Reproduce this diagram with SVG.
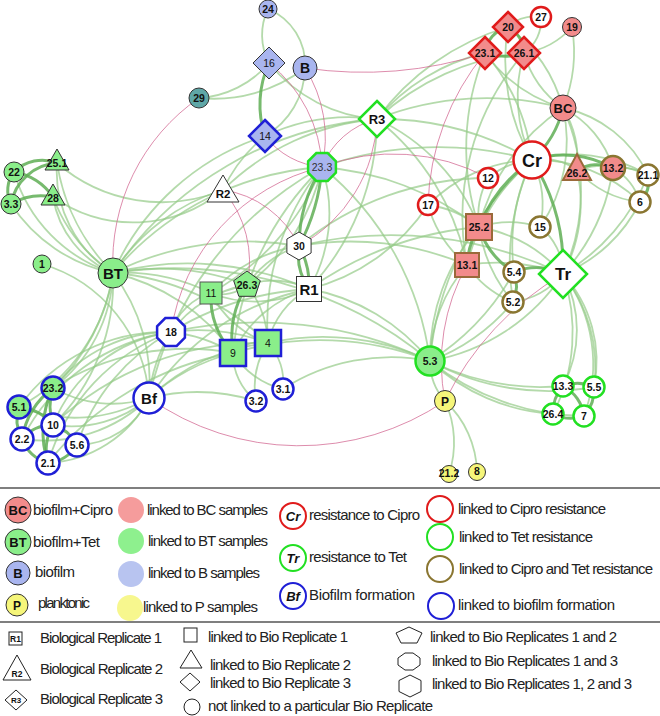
<svg xmlns="http://www.w3.org/2000/svg" width="660" height="716" viewBox="0 0 660 716">
<style>
.e{fill:none;stroke:#94cb88;stroke-width:1.8;stroke-opacity:.7}
.t{fill:none;stroke:#5fae55;stroke-width:3;stroke-opacity:.85}
.p{fill:none;stroke:#cf5f8c;stroke-width:.9;stroke-opacity:.8}
text{font-family:"Liberation Sans",Arial,sans-serif;fill:#111}
.l{font-weight:bold;font-size:10.5px;text-anchor:middle}
.n{font-size:10.5px;text-anchor:middle}
.big{font-weight:bold;text-anchor:middle}
.lg{font-size:15px;fill:#222}
.fr{fill:#f28b8b}.fg{fill:#8aee8a}.fb{fill:#a9b5ef}.fy{fill:#f6f67a}.fw{fill:#fff}.ft{fill:#5fa7a7}
.sk{stroke:#333;stroke-width:1}.sr{stroke:#e01b1b;stroke-width:2.5}.sg{stroke:#22e022;stroke-width:2.5}
.so{stroke:#8a7631;stroke-width:2.5}.sb{stroke:#1f1fd6;stroke-width:2.5}.sw{stroke:#9a6a3a;stroke-width:2}
.sx{stroke:#555;stroke-width:1}
</style>
<g id="connectors">
<path class="e" d="M57 163 A120 120 0 0 0 113 273"/>
<path class="e" d="M57 163 A200 200 0 0 0 113 273"/>
<path class="e" d="M53 197 A100 100 0 0 0 113 273"/>
<path class="e" d="M53 197 A160 160 0 0 0 113 273"/>
<path class="e" d="M14 172 A150 150 0 0 0 113 273"/>
<path class="e" d="M11 204 A160 160 0 0 0 113 273"/>
<path class="e" d="M57 163 A160 160 0 0 0 223 190"/>
<path class="e" d="M53 197 A140 140 0 0 0 223 190"/>
<path class="e" d="M199 98 A150 150 0 0 0 305 68"/>
<path class="e" d="M199 98 A100 100 0 0 0 269 63"/>
<path class="e" d="M268 9 A60 60 0 0 0 269 63"/>
<path class="e" d="M268 9 A60 60 0 0 1 305 68"/>
<path class="e" d="M305 68 A80 80 0 0 1 265 136"/>
<path class="e" d="M269 63 A150 150 0 0 0 377 119"/>
<path class="e" d="M265 136 A200 200 0 0 1 377 119"/>
<path class="e" d="M223 190 A150 150 0 0 1 265 136"/>
<path class="e" d="M223 190 A250 250 0 0 1 377 119"/>
<path class="e" d="M113 273 A200 200 0 0 1 223 190"/>
<path class="e" d="M322 167 A150 150 0 0 1 309 289"/>
<path class="e" d="M322 167 A200 200 0 0 1 247 285"/>
<path class="e" d="M322 167 A250 250 0 0 1 211 293"/>
<path class="e" d="M322 167 A300 300 0 0 0 233 353"/>
<path class="e" d="M322 167 A250 250 0 0 0 268 343"/>
<path class="e" d="M247 285 A40 40 0 0 1 211 293"/>
<path class="e" d="M247 285 A100 100 0 0 1 268 343"/>
<path class="e" d="M211 293 A100 100 0 0 0 268 343"/>
<path class="e" d="M233 353 A40 40 0 0 1 268 343"/>
<path class="e" d="M268 343 A60 60 0 0 1 283 389"/>
<path class="e" d="M268 343 A80 80 0 0 0 256 401"/>
<path class="e" d="M233 353 A60 60 0 0 0 256 401"/>
<path class="e" d="M233 353 A80 80 0 0 0 283 389"/>
<path class="e" d="M309 289 A80 80 0 0 0 268 343"/>
<path class="e" d="M309 289 A120 120 0 0 0 233 353"/>
<path class="e" d="M309 289 A80 80 0 0 0 247 285"/>
<path class="e" d="M309 289 A120 120 0 0 1 211 293"/>
<path class="e" d="M299 246 A100 100 0 0 0 247 285"/>
<path class="e" d="M299 246 A150 150 0 0 0 211 293"/>
<path class="e" d="M171 332 A150 150 0 0 1 233 353"/>
<path class="e" d="M171 332 A200 200 0 0 1 268 343"/>
<path class="e" d="M171 332 A300 300 0 0 1 309 289"/>
<path class="e" d="M171 332 A60 60 0 0 1 211 293"/>
<path class="e" d="M171 332 A120 120 0 0 1 247 285"/>
<path class="e" d="M113 273 A200 200 0 0 1 211 293"/>
<path class="e" d="M113 273 A250 250 0 0 1 247 285"/>
<path class="e" d="M113 273 A300 300 0 0 1 309 289"/>
<path class="e" d="M113 273 A300 300 0 0 1 299 246"/>
<path class="e" d="M113 273 A300 300 0 0 1 322 167"/>
<path class="e" d="M113 273 A350 350 0 0 1 377 119"/>
<path class="e" d="M113 273 A200 200 0 0 1 233 353"/>
<path class="e" d="M113 273 A250 250 0 0 1 268 343"/>
<path class="e" d="M113 273 A400 400 0 0 1 430 361"/>
<path class="e" d="M113 273 A250 250 0 0 1 265 136"/>
<path class="e" d="M113 273 A150 150 0 0 1 53 388"/>
<path class="e" d="M113 273 A200 200 0 0 1 53 388"/>
<path class="e" d="M113 273 A180 180 0 0 1 19 407"/>
<path class="e" d="M113 273 A200 200 0 0 1 53 425"/>
<path class="e" d="M113 273 A180 180 0 0 1 149 398"/>
<path class="e" d="M42 264 A150 150 0 0 1 149 398"/>
<path class="e" d="M149 398 A120 120 0 0 1 53 388"/>
<path class="e" d="M149 398 A150 150 0 0 1 19 407"/>
<path class="e" d="M149 398 A120 120 0 0 1 53 425"/>
<path class="e" d="M149 398 A150 150 0 0 1 22 439"/>
<path class="e" d="M149 398 A80 80 0 0 1 77 445"/>
<path class="e" d="M149 398 A120 120 0 0 1 48 463"/>
<path class="e" d="M149 398 A150 150 0 0 1 171 332"/>
<path class="e" d="M149 398 A200 200 0 0 1 233 353"/>
<path class="e" d="M149 398 A200 200 0 0 1 268 343"/>
<path class="e" d="M149 398 A200 200 0 0 1 256 401"/>
<path class="e" d="M149 398 A250 250 0 0 1 309 289"/>
<path class="e" d="M149 398 A350 350 0 0 1 322 167"/>
<path class="e" d="M171 332 A150 150 0 0 0 53 388"/>
<path class="e" d="M171 332 A180 180 0 0 0 19 407"/>
<path class="e" d="M171 332 A150 150 0 0 0 53 425"/>
<path class="e" d="M171 332 A200 200 0 0 0 22 439"/>
<path class="e" d="M171 332 A200 200 0 0 0 48 463"/>
<path class="e" d="M171 332 A200 200 0 0 0 77 445"/>
<path class="e" d="M233 353 A250 250 0 0 0 53 388"/>
<path class="e" d="M268 343 A300 300 0 0 0 53 425"/>
<path class="e" d="M233 353 A300 300 0 0 0 48 463"/>
<path class="e" d="M171 332 A400 400 0 0 1 430 361"/>
<path class="e" d="M563 108 A150 150 0 0 0 572 27"/>
<path class="e" d="M563 108 A100 100 0 0 1 524 53"/>
<path class="e" d="M563 108 A150 150 0 0 1 485 53"/>
<path class="e" d="M563 108 A150 150 0 0 0 508 27"/>
<path class="e" d="M563 108 A100 100 0 0 1 613 168"/>
<path class="e" d="M563 108 A120 120 0 0 1 648 175"/>
<path class="e" d="M563 108 A100 100 0 0 1 577 170"/>
<path class="e" d="M563 108 A200 200 0 0 1 563 274"/>
<path class="e" d="M563 108 A200 200 0 0 0 479 227"/>
<path class="e" d="M563 108 A150 150 0 0 1 540 227"/>
<path class="e" d="M508 27 A40 40 0 0 1 541 17"/>
<path class="e" d="M524 53 A40 40 0 0 0 541 17"/>
<path class="e" d="M524 53 A80 80 0 0 0 572 27"/>
<path class="e" d="M532 160 A200 200 0 0 1 508 27"/>
<path class="e" d="M532 160 A200 200 0 0 0 485 53"/>
<path class="e" d="M532 160 A150 150 0 0 1 524 53"/>
<path class="e" d="M532 160 A80 80 0 0 0 488 178"/>
<path class="e" d="M532 160 A200 200 0 0 0 467 265"/>
<path class="e" d="M532 160 A100 100 0 0 1 540 227"/>
<path class="e" d="M532 160 A60 60 0 0 1 577 170"/>
<path class="e" d="M532 160 A150 150 0 0 1 648 175"/>
<path class="e" d="M532 160 A150 150 0 0 1 640 202"/>
<path class="e" d="M532 160 A200 200 0 0 0 514 272"/>
<path class="e" d="M532 160 A250 250 0 0 0 513 302"/>
<path class="e" d="M532 160 A300 300 0 0 0 430 361"/>
<path class="e" d="M532 160 A300 300 0 0 0 377 119"/>
<path class="e" d="M532 160 A150 150 0 0 0 428 205"/>
<path class="e" d="M613 168 A60 60 0 0 1 648 175"/>
<path class="e" d="M613 168 A60 60 0 0 1 640 202"/>
<path class="e" d="M577 170 A100 100 0 0 1 648 175"/>
<path class="e" d="M577 170 A100 100 0 0 0 640 202"/>
<path class="e" d="M563 274 A200 200 0 0 0 613 168"/>
<path class="e" d="M563 274 A200 200 0 0 0 648 175"/>
<path class="e" d="M563 274 A150 150 0 0 0 640 202"/>
<path class="e" d="M563 274 A150 150 0 0 0 577 170"/>
<path class="e" d="M563 274 A150 150 0 0 0 479 227"/>
<path class="e" d="M563 274 A200 200 0 0 0 467 265"/>
<path class="e" d="M563 274 A80 80 0 0 1 513 302"/>
<path class="e" d="M563 274 A60 60 0 0 0 540 227"/>
<path class="e" d="M563 274 A120 120 0 0 1 563 386"/>
<path class="e" d="M563 274 A150 150 0 0 1 594 387"/>
<path class="e" d="M563 274 A150 150 0 0 1 584 416"/>
<path class="e" d="M563 274 A180 180 0 0 1 553 414"/>
<path class="e" d="M563 274 A130 130 0 0 1 594 387"/>
<path class="e" d="M430 361 A250 250 0 0 0 563 386"/>
<path class="e" d="M430 361 A200 200 0 0 0 553 414"/>
<path class="e" d="M430 361 A250 250 0 0 0 584 416"/>
<path class="e" d="M430 361 A250 250 0 0 0 594 387"/>
<path class="e" d="M430 361 A200 200 0 0 0 563 274"/>
<path class="e" d="M430 361 A200 200 0 0 0 513 302"/>
<path class="e" d="M430 361 A200 200 0 0 1 479 227"/>
<path class="e" d="M430 361 A150 150 0 0 1 467 265"/>
<path class="e" d="M430 361 A250 250 0 0 0 514 272"/>
<path class="e" d="M430 361 A250 250 0 0 0 268 343"/>
<path class="e" d="M430 361 A300 300 0 0 0 233 353"/>
<path class="e" d="M430 361 A200 200 0 0 0 283 389"/>
<path class="e" d="M430 361 A200 200 0 0 0 309 289"/>
<path class="e" d="M430 361 A300 300 0 0 0 322 167"/>
<path class="e" d="M445 401 A60 60 0 0 1 430 361"/>
<path class="e" d="M445 401 A100 100 0 0 1 449 474"/>
<path class="e" d="M445 401 A100 100 0 0 1 477 472"/>
<path class="e" d="M479 227 A100 100 0 0 1 540 227"/>
<path class="e" d="M467 265 A100 100 0 0 0 513 302"/>
<path class="e" d="M428 205 A100 100 0 0 1 479 227"/>
<path class="e" d="M488 178 A80 80 0 0 0 479 227"/>
<path class="e" d="M428 205 A120 120 0 0 0 467 265"/>
<path class="e" d="M479 227 A150 150 0 0 0 513 302"/>
<path class="e" d="M377 119 A200 200 0 0 1 485 53"/>
<path class="e" d="M377 119 A250 250 0 0 1 508 27"/>
<path class="e" d="M377 119 A250 250 0 0 1 524 53"/>
<path class="e" d="M377 119 A250 250 0 0 1 309 289"/>
<path class="e" d="M377 119 A200 200 0 0 1 479 227"/>
<path class="e" d="M377 119 A250 250 0 0 1 467 265"/>
<path class="e" d="M377 119 A300 300 0 0 1 563 108"/>
<path class="e" d="M485 53 A250 250 0 0 0 479 227"/>
<path class="e" d="M524 53 A250 250 0 0 0 467 265"/>
<path class="e" d="M428 205 A200 200 0 0 1 309 289"/>
<path class="e" d="M488 178 A300 300 0 0 0 299 246"/>
<path class="e" d="M322 167 A300 300 0 0 1 479 227"/>
<path class="e" d="M322 167 A350 350 0 0 1 532 160"/>
<path class="e" d="M299 246 A300 300 0 0 1 467 265"/>
<path class="e" d="M309 289 A350 350 0 0 1 479 227"/>
<path class="e" d="M299 246 A400 400 0 0 1 563 274"/>
<path class="t" d="M14 172 A40 40 0 0 1 57 163"/>
<path class="t" d="M14 172 A60 60 0 0 1 53 197"/>
<path class="t" d="M11 204 A50 50 0 0 1 57 163"/>
<path class="t" d="M11 204 A60 60 0 0 1 53 197"/>
<path class="t" d="M14 172 A30 30 0 0 0 11 204"/>
<path class="t" d="M269 63 A100 100 0 0 0 265 136"/>
<path class="t" d="M322 167 A150 150 0 0 0 299 246"/>
<path class="t" d="M322 167 A200 200 0 0 1 299 246"/>
<path class="t" d="M299 246 A60 60 0 0 0 309 289"/>
<path class="t" d="M299 246 A80 80 0 0 1 309 289"/>
<path class="t" d="M247 285 A100 100 0 0 0 233 353"/>
<path class="t" d="M211 293 A80 80 0 0 0 233 353"/>
<path class="t" d="M53 388 A60 60 0 0 0 53 425"/>
<path class="t" d="M53 388 A100 100 0 0 0 48 463"/>
<path class="t" d="M53 388 A80 80 0 0 0 22 439"/>
<path class="t" d="M19 407 A40 40 0 0 0 22 439"/>
<path class="t" d="M19 407 A50 50 0 0 1 53 425"/>
<path class="t" d="M53 425 A50 50 0 0 0 48 463"/>
<path class="t" d="M53 425 A40 40 0 0 1 77 445"/>
<path class="t" d="M22 439 A40 40 0 0 0 48 463"/>
<path class="t" d="M77 445 A40 40 0 0 1 48 463"/>
<path class="t" d="M22 439 A40 40 0 0 1 53 425"/>
<path class="t" d="M532 160 A100 100 0 0 0 563 108"/>
<path class="t" d="M508 27 A30 30 0 0 0 485 53"/>
<path class="t" d="M508 27 A30 30 0 0 1 524 53"/>
<path class="t" d="M485 53 A60 60 0 0 0 524 53"/>
<path class="t" d="M532 160 A150 150 0 0 0 479 227"/>
<path class="t" d="M532 160 A100 100 0 0 1 613 168"/>
<path class="t" d="M577 170 A40 40 0 0 1 613 168"/>
<path class="t" d="M648 175 A30 30 0 0 1 640 202"/>
<path class="t" d="M532 160 A200 200 0 0 1 563 274"/>
<path class="t" d="M563 274 A60 60 0 0 0 514 272"/>
<path class="t" d="M563 386 A40 40 0 0 1 594 387"/>
<path class="t" d="M563 386 A40 40 0 0 0 553 414"/>
<path class="t" d="M563 386 A40 40 0 0 1 584 416"/>
<path class="t" d="M594 387 A40 40 0 0 1 584 416"/>
<path class="t" d="M553 414 A40 40 0 0 0 584 416"/>
<path class="t" d="M479 227 A80 80 0 0 0 467 265"/>
<path class="t" d="M479 227 A80 80 0 0 0 514 272"/>
<path class="t" d="M514 272 A40 40 0 0 1 513 302"/>
<path class="p" d="M199 98 A200 200 0 0 0 113 273"/>
<path class="p" d="M265 136 A80 80 0 0 0 322 167"/>
<path class="p" d="M269 63 A140 140 0 0 1 322 167"/>
<path class="p" d="M305 68 A130 130 0 0 1 322 167"/>
<path class="p" d="M377 119 A80 80 0 0 0 322 167"/>
<path class="p" d="M377 119 A150 150 0 0 1 299 246"/>
<path class="p" d="M223 190 A100 100 0 0 1 299 246"/>
<path class="p" d="M322 167 A200 200 0 0 0 171 332"/>
<path class="p" d="M305 68 A400 400 0 0 0 485 53"/>
<path class="p" d="M322 167 A200 200 0 0 1 488 178"/>
<path class="p" d="M223 190 A110 110 0 0 1 247 285"/>
<path class="p" d="M149 398 A260 260 0 0 0 445 401"/>
<path class="p" d="M467 265 A200 200 0 0 0 445 401"/>
<path class="p" d="M563 274 A300 300 0 0 0 445 401"/>
<path class="p" d="M485 53 A250 250 0 0 0 428 205"/>
</g>
<g id="nodes">
<g id="n24" transform="translate(268,9)"><circle r="9" class="fb sk"/><text class="l" y="3.5" font-size="9.5">24</text></g>
<g id="n16" transform="translate(269,63)"><polygon points="0,-16 16,0 0,16 -16,0" class="fb sk"/><text class="n" y="3.5">16</text></g>
<g id="nB" transform="translate(305,68)"><circle r="12" class="fb sk"/><text class="big" y="5" font-size="14">B</text></g>
<g id="n29" transform="translate(199,98)"><circle r="10" class="ft sk"/><text class="l" y="3.5">29</text></g>
<g id="n14" transform="translate(265,136)"><polygon points="0,-16 16,0 0,16 -16,0" class="fb sb"/><text class="n" y="3.5">14</text></g>
<g id="nR3" transform="translate(377,119)"><polygon points="0,-18 18,0 0,18 -18,0" class="fw sg"/><text class="big" y="4.5" font-size="13">R3</text></g>
<g id="n23_3" transform="translate(322,167)"><polygon points="13.9,5.7 5.7,13.9 -5.7,13.9 -13.9,5.7 -13.9,-5.7 -5.7,-13.9 5.7,-13.9 13.9,-5.7" class="fb sg" stroke-width="2"/><text class="n" y="3.5" style="fill:#333">23.3</text></g>
<g id="nR2" transform="translate(223,190)"><polygon points="0,-15 16,12 -16,12" class="fw sk"/><text class="big" y="8" font-size="11.5">R2</text></g>
<g id="n22" transform="translate(14,172)"><circle r="10" class="fg sk"/><text class="l" y="3.5">22</text></g>
<g id="n25_1" transform="translate(57,163)"><polygon points="0,-14 12,7 -12,7" class="fg sk"/><text class="l" y="4" font-size="9.5">25.1</text></g>
<g id="n3_3" transform="translate(11,204)"><circle r="10" class="fg sk"/><text class="l" y="3.5">3.3</text></g>
<g id="n28" transform="translate(53,197)"><polygon points="0,-13 12,8 -12,8" class="fg sk"/><text class="l" y="5">28</text></g>
<g id="n1" transform="translate(42,264)"><circle r="9" class="fg sk"/><text class="l" y="3.5" font-size="9.5">1</text></g>
<g id="nBT" transform="translate(113,273)"><circle r="15" class="fg sk"/><text class="big" y="5.5" font-size="15">BT</text></g>
<g id="n30" transform="translate(299,246)"><polygon points="0,-14 12.1,-7 12.1,7 0,14 -12.1,7 -12.1,-7" class="fw sk"/><text class="l" y="3.5">30</text></g>
<g id="nR1" transform="translate(309,289)"><rect x="-12.5" y="-12.5" width="25" height="25" class="fw sk"/><text class="big" y="5.5" font-size="15">R1</text></g>
<g id="n26_3" transform="translate(247,285)"><polygon points="0,-14 13.3,-4.3 8.2,11.3 -8.2,11.3 -13.3,-4.3" class="fg sk"/><text class="l" y="4" font-size="9.5">26.3</text></g>
<g id="n11" transform="translate(211,293)"><rect x="-11" y="-11" width="22" height="22" class="fg sx"/><text class="n" y="3.5">11</text></g>
<g id="n18" transform="translate(171,332)"><polygon points="13.9,5.7 5.7,13.9 -5.7,13.9 -13.9,5.7 -13.9,-5.7 -5.7,-13.9 5.7,-13.9 13.9,-5.7" class="fw sb"/><text class="l" y="3.5">18</text></g>
<g id="n9" transform="translate(233,353)"><rect x="-13" y="-13" width="26" height="26" class="fg sb"/><text class="n" y="3.5">9</text></g>
<g id="n4" transform="translate(268,343)"><rect x="-13" y="-13" width="26" height="26" class="fg sb"/><text class="n" y="3.5">4</text></g>
<g id="n3_1" transform="translate(283,389)"><circle r="10.5" class="fw sb"/><text class="l" y="3.5" font-size="9.5">3.1</text></g>
<g id="n3_2" transform="translate(256,401)"><circle r="10.5" class="fw sb"/><text class="l" y="3.5" font-size="9.5">3.2</text></g>
<g id="nBf" transform="translate(149,398)"><circle r="15.5" class="fw sb"/><text class="big" y="5.5" font-size="15">Bf</text></g>
<g id="n23_2" transform="translate(53,388)"><circle r="11.5" class="fg sb"/><text class="l" y="3.5">23.2</text></g>
<g id="n5_1" transform="translate(19,407)"><circle r="11.5" class="fg sb"/><text class="l" y="3.5">5.1</text></g>
<g id="n10" transform="translate(53,425)"><circle r="11.5" class="fw sb"/><text class="l" y="3.5">10</text></g>
<g id="n2_2" transform="translate(22,439)"><circle r="11.5" class="fw sb"/><text class="l" y="3.5">2.2</text></g>
<g id="n5_6" transform="translate(77,445)"><circle r="11.5" class="fw sb"/><text class="l" y="3.5">5.6</text></g>
<g id="n2_1" transform="translate(48,463)"><circle r="11.5" class="fw sb"/><text class="l" y="3.5">2.1</text></g>
<g id="n5_3" transform="translate(430,361)"><circle r="14.5" class="fg sg"/><text class="l" y="4" font-size="11">5.3</text></g>
<g id="nP" transform="translate(445,401)"><circle r="10.5" class="fy sk"/><text class="big" y="4.5" font-size="12">P</text></g>
<g id="n21_2" transform="translate(449,474)"><circle r="8.5" class="fy sk"/><text class="l" y="3" font-size="8">21.2</text></g>
<g id="n8" transform="translate(477,472)"><circle r="8.5" class="fy sk"/><text class="l" y="3" font-size="9">8</text></g>
<g id="n13_3" transform="translate(563,386)"><circle r="10.5" class="fw sg"/><text class="l" y="3.5" font-size="9.5">13.3</text></g>
<g id="n5_5" transform="translate(594,387)"><circle r="10.5" class="fw sg"/><text class="l" y="3.5" font-size="9.5">5.5</text></g>
<g id="n26_4" transform="translate(553,414)"><circle r="10.5" class="fw sg"/><text class="l" y="3.5" font-size="9.5">26.4</text></g>
<g id="n7" transform="translate(584,416)"><circle r="10.5" class="fw sg"/><text class="l" y="3.5" font-size="9.5">7</text></g>
<g id="nTr" transform="translate(563,274)"><polygon points="0,-24 24,0 0,24 -24,0" class="fw sg"/><text class="big" y="6" font-size="17">Tr</text></g>
<g id="n5_2" transform="translate(513,302)"><circle r="10.5" class="fw so"/><text class="l" y="3.5" font-size="9.5">5.2</text></g>
<g id="n5_4" transform="translate(514,272)"><circle r="10.5" class="fw so"/><text class="l" y="3.5" font-size="9.5">5.4</text></g>
<g id="n13_1" transform="translate(467,265)"><rect x="-12" y="-12" width="24" height="24" class="fr sw"/><text class="l" y="3.5">13.1</text></g>
<g id="n25_2" transform="translate(479,227)"><rect x="-13" y="-13" width="26" height="26" class="fr sw"/><text class="l" y="3.5">25.2</text></g>
<g id="n15" transform="translate(540,227)"><circle r="10.5" class="fw so"/><text class="l" y="3.5" font-size="9.5">15</text></g>
<g id="n12" transform="translate(488,178)"><circle r="10" class="fw sr"/><text class="l" y="3.5" font-size="9.5">12</text></g>
<g id="n17" transform="translate(428,205)"><circle r="10" class="fw sr"/><text class="l" y="3.5" font-size="9.5">17</text></g>
<g id="nCr" transform="translate(532,160)"><circle r="18.5" class="fw sr"/><text class="big" y="6.5" font-size="18">Cr</text></g>
<g id="n26_2" transform="translate(577,168)"><polygon points="0,-14 14,12 -14,12" class="fr sw"/><text class="l" y="9" font-size="9.5">26.2</text></g>
<g id="n13_2" transform="translate(613,168)"><circle r="12" class="fr so"/><text class="l" y="3.5">13.2</text></g>
<g id="n21_1" transform="translate(648,175)"><circle r="10.5" class="fw so"/><text class="l" y="3.5" font-size="9.5">21.1</text></g>
<g id="n6" transform="translate(640,202)"><circle r="10.5" class="fw so"/><text class="l" y="3.5" font-size="9.5">6</text></g>
<g id="nBC" transform="translate(563,108)"><circle r="13" class="fr sk"/><text class="big" y="5" font-size="13">BC</text></g>
<g id="n20" transform="translate(508,27)"><polygon points="0,-15 15,0 0,15 -15,0" class="fr sr"/><text class="l" y="3.5">20</text></g>
<g id="n27" transform="translate(541,17)"><circle r="10" class="fw sr"/><text class="l" y="3.5" font-size="9.5">27</text></g>
<g id="n19" transform="translate(572,27)"><circle r="9.5" class="fr sk"/><text class="l" y="3.5" font-size="9.5">19</text></g>
<g id="n23_1" transform="translate(485,53)"><polygon points="0,-16 16,0 0,16 -16,0" class="fr sr"/><text class="l" y="3.5">23.1</text></g>
<g id="n26_1" transform="translate(524,53)"><polygon points="0,-16 16,0 0,16 -16,0" class="fr sr"/><text class="l" y="3.5">26.1</text></g>
</g>
<g id="legend">
<line x1="0" y1="488" x2="660" y2="488" stroke="#555" stroke-width="1.5"/>
<line x1="0" y1="622" x2="660" y2="622" stroke="#555" stroke-width="1.5"/>
<circle cx="18" cy="510" r="13" class="fr sk"/><text class="big" x="18" y="515" font-size="13">BC</text>
<text class="lg" x="33" y="515" textLength="80">biofilm+Cipro</text>
<circle cx="18" cy="542" r="13" class="fg sk"/><text class="big" x="18" y="547" font-size="13">BT</text>
<text class="lg" x="33" y="547" textLength="67">biofilm+Tet</text>
<circle cx="18" cy="573" r="12" class="fb sk"/><text class="big" x="18" y="578" font-size="13">B</text>
<text class="lg" x="35" y="577" textLength="40">biofilm</text>
<circle cx="17" cy="605" r="11" class="fy sk"/><text class="big" x="17" y="609.5" font-size="12">P</text>
<text class="lg" x="38" y="608" textLength="52">planktonic</text>
<circle cx="131" cy="510" r="13" fill="#f59c9c"/>
<text class="lg" x="147" y="515" textLength="121">linked to BC samples</text>
<circle cx="131" cy="541" r="13" fill="#8ef08e"/>
<text class="lg" x="148" y="546" textLength="120">linked to BT samples</text>
<circle cx="131" cy="574" r="13" fill="#b8c4f0"/>
<text class="lg" x="148" y="578" textLength="112">linked to B samples</text>
<circle cx="130" cy="608" r="13" fill="#f7f78e"/>
<text class="lg" x="143" y="612" textLength="115">linked to P samples</text>
<circle cx="293" cy="516" r="13" class="fw" stroke="#e01b1b" stroke-width="2"/><text class="big" x="293" y="521" font-size="13" font-style="italic">Cr</text>
<text class="lg" x="309" y="520" textLength="111">resistance to Cipro</text>
<circle cx="293" cy="558" r="13" class="fw" stroke="#22e022" stroke-width="2"/><text class="big" x="293" y="563" font-size="13" font-style="italic">Tr</text>
<text class="lg" x="309" y="562" textLength="98">resistance to Tet</text>
<circle cx="293" cy="596" r="13" class="fw" stroke="#1f1fd6" stroke-width="2"/><text class="big" x="293" y="601" font-size="13" font-style="italic">Bf</text>
<text class="lg" x="309" y="600" textLength="106">Biofilm formation</text>
<circle cx="440" cy="509" r="13" fill="none" stroke="#e01b1b" stroke-width="2"/>
<text class="lg" x="458" y="514" textLength="148">linked to Cipro resistance</text>
<circle cx="440" cy="537" r="13" fill="none" stroke="#22e022" stroke-width="2"/>
<text class="lg" x="459" y="542" textLength="134">linked to Tet resistance</text>
<circle cx="440" cy="569" r="13" fill="none" stroke="#8a7631" stroke-width="2"/>
<text class="lg" x="459" y="574" textLength="194">linked to Cipro and Tet resistance</text>
<circle cx="441" cy="606" r="13" fill="none" stroke="#1f1fd6" stroke-width="2"/>
<text class="lg" x="458" y="610" textLength="157">linked to biofilm formation</text>
<rect x="9" y="632" width="13" height="13" fill="#fff" stroke="#222" stroke-width="1"/><text class="big" x="15.5" y="641.5" font-size="8.5">R1</text>
<text class="lg" x="40" y="643" textLength="122">Biological Replicate 1</text>
<polygon points="17,655 31,680 3,680" fill="#fff" stroke="#222" stroke-width="1"/><text class="big" x="17" y="677" font-size="8.5">R2</text>
<text class="lg" x="40" y="674" textLength="123">Biological Replicate 2</text>
<polygon points="16,690 27,700 16,710 5,700" fill="#fff" stroke="#222" stroke-width="1"/><text class="big" x="16" y="703" font-size="8">R3</text>
<text class="lg" x="40" y="704" textLength="123">Biological Replicate 3</text>
<rect x="184" y="628" width="13" height="14" fill="none" stroke="#222" stroke-width="1"/>
<text class="lg" x="208" y="642" textLength="140">linked to Bio Replicate 1</text>
<polygon points="191,650 202,668 180,668" fill="none" stroke="#222" stroke-width="1"/>
<text class="lg" x="210" y="670" textLength="141">linked to Bio Replicate 2</text>
<polygon points="190,673 200,682 190,691 180,682" fill="none" stroke="#222" stroke-width="1"/>
<text class="lg" x="210" y="688" textLength="141">linked to Bio Replicate 3</text>
<circle cx="192" cy="707" r="8" fill="none" stroke="#222" stroke-width="1"/>
<text class="lg" x="208" y="711" textLength="225">not linked to a particular Bio Replicate</text>
<polygon points="409,627 422,633 417,643 401,643 396,633" fill="none" stroke="#222" stroke-width="1"/>
<text class="lg" x="430" y="642" textLength="187">linked to Bio Replicates  1 and 2</text>
<polygon points="405,653 413,653 420,658 420,665 413,670 405,670 398,665 398,658" fill="none" stroke="#222" stroke-width="1"/>
<text class="lg" x="432" y="666" textLength="186">linked to Bio Replicates  1 and 3</text>
<polygon points="410,675 421,680.5 421,691.5 410,697 399,691.5 399,680.5" fill="none" stroke="#222" stroke-width="1"/>
<text class="lg" x="432" y="689" textLength="200">linked to Bio Replicates  1, 2 and 3</text>
</g>
</svg>
